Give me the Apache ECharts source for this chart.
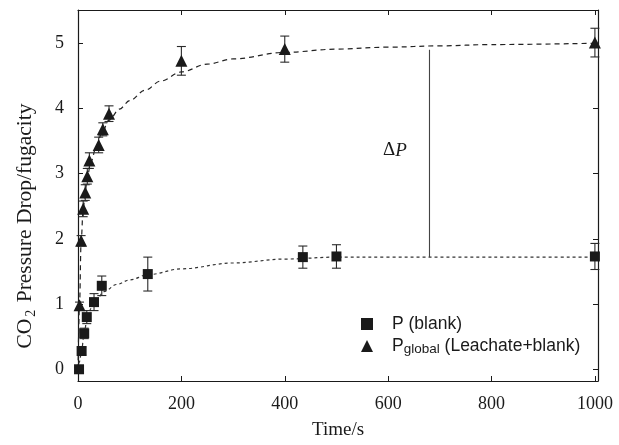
<!DOCTYPE html>
<html>
<head>
<meta charset="utf-8">
<script src="https://cdn.jsdelivr.net/npm/echarts@6/dist/echarts.min.js"></script>
<style>html,body{margin:0;padding:0;background:#fff;}#c{width:619px;height:445px;}</style>
</head>
<body>
<div id="c"></div>
<script>
// ---- data ----
const blankTime = [2, 7, 12, 17, 31, 46, 135, 435, 500, 1000];
const blankVal  = [0.00, 0.28, 0.55, 0.80, 1.03, 1.28, 1.46, 1.72, 1.73, 1.73];
const blankErr  = [0.03, 0.06, 0.08, 0.10, 0.13, 0.15, 0.26, 0.17, 0.18, 0.20];

const globalTime = [3, 6, 10, 14, 18, 22, 40, 48, 60, 200, 400, 1000];
const globalVal  = [0.98, 1.97, 2.46, 2.71, 2.96, 3.20, 3.44, 3.68, 3.92, 4.73, 4.91, 5.01];
const globalErr  = [0.05, 0.08, 0.12, 0.12, 0.12, 0.12, 0.12, 0.10, 0.12, 0.22, 0.20, 0.22];

// dashed fit curves
const globalFitT = [0, 3, 6, 10, 14, 18, 25, 35, 45, 60, 80, 100, 130, 160, 200, 250, 300, 400, 500, 600, 700, 800, 1000];
const globalFitV = [0.0, 1.0, 1.95, 2.45, 2.72, 2.95, 3.18, 3.40, 3.60, 3.82, 3.99, 4.12, 4.28, 4.42, 4.56, 4.68, 4.76, 4.86, 4.91, 4.94, 4.96, 4.98, 5.00];
const blankFitT  = [0, 3, 7, 12, 17, 25, 35, 50, 75, 100, 135, 200, 300, 400, 500, 600, 800, 1000];
const blankFitV  = [0.0, 0.12, 0.30, 0.55, 0.75, 0.93, 1.06, 1.19, 1.30, 1.37, 1.45, 1.54, 1.63, 1.69, 1.72, 1.72, 1.72, 1.72];

// delta P marker
const deltaT = [680, 680];
const deltaV = [1.72, 4.90];

const xTicks = [0, 200, 400, 600, 800, 1000];
const yTicks = [0, 1, 2, 3, 4, 5];

// ---- build ----
const zip = (a, b) => a.map((v, i) => [v, b[i]]);
const errData = (t, v, e) => t.map((x, i) => [x, v[i] - e[i], v[i] + e[i]]);

const serif = '"Liberation Serif", "DejaVu Serif", serif';
const sans = '"Liberation Sans", Arial, sans-serif';
const ink = '#1a1a1a';

function errRender(params, api) {
  const x = api.value(0), lo = api.value(1), hi = api.value(2);
  const a = api.coord([x, hi]), b = api.coord([x, lo]);
  const w = 4.5;
  const st = { stroke: '#2a2a2a', lineWidth: 1.1 };
  return { type: 'group', children: [
    { type: 'line', shape: { x1: a[0], y1: a[1], x2: b[0], y2: b[1] }, style: st },
    { type: 'line', shape: { x1: a[0] - w, y1: a[1], x2: a[0] + w, y2: a[1] }, style: st },
    { type: 'line', shape: { x1: b[0] - w, y1: b[1], x2: b[0] + w, y2: b[1] }, style: st }
  ]};
}

const axisLine = { show: true, onZero: false, lineStyle: { color: ink, width: 1.2 } };
const tick = (vals) => ({ inside: true, length: 5, lineStyle: { color: ink }, customValues: vals });

const chart = echarts.init(document.getElementById('c'), null, { renderer: 'canvas' });
chart.setOption({
  animation: false,
  backgroundColor: '#fff',
  grid: { left: 78, right: 21, top: 10, bottom: 56 },
  legend: {
    orient: 'vertical', left: 356, top: 310, itemGap: 2,
    itemWidth: 12, itemHeight: 12,
    data: ['blank', 'global'],
    formatter: function (n) {
      return n === 'blank' ? '{a|P (blank)}' : '{a|P}{s|global}{b| (Leachate+blank)}';
    },
    textStyle: {
      rich: {
        a: { fontFamily: sans, fontSize: 17.5, color: ink, lineHeight: 20, verticalAlign: 'middle', padding: [0, 0, 0, 14] },
        b: { fontFamily: sans, fontSize: 17.5, color: ink, lineHeight: 20, verticalAlign: 'middle' },
        s: { fontFamily: sans, fontSize: 13.5, color: ink, lineHeight: 20, verticalAlign: 'bottom', padding: [7, 0, 0, 0] }
      }
    }
  },
  xAxis: [{
    type: 'value', min: 0, max: 1006, position: 'bottom',
    name: 'Time/s', nameLocation: 'middle', nameGap: 40,
    nameTextStyle: { fontFamily: serif, fontSize: 19, color: ink },
    axisLine: axisLine, splitLine: { show: false },
    axisTick: tick(xTicks),
    axisLabel: { fontFamily: serif, fontSize: 18, color: ink, margin: 14, customValues: xTicks,
      formatter: v => String(v) }
  }, {
    type: 'value', min: 0, max: 1006, position: 'top',
    axisLine: axisLine, splitLine: { show: false },
    axisTick: tick(xTicks),
    axisLabel: { show: false }
  }],
  yAxis: [{
    type: 'value', min: -0.18, max: 5.51, position: 'left',
    axisLine: axisLine, splitLine: { show: false },
    axisTick: tick(yTicks),
    axisLabel: { fontFamily: serif, fontSize: 18, color: ink, margin: 14, customValues: yTicks }
  }, {
    type: 'value', min: -0.18, max: 5.51, position: 'right',
    axisLine: axisLine, splitLine: { show: false },
    axisTick: tick(yTicks),
    axisLabel: { show: false }
  }],
  graphic: [{
    type: 'text', x: 383, y: 141,
    style: { text: '{d|Δ}{p|P}', rich: {
      d: { fontFamily: serif, fontSize: 19, fill: ink },
      p: { fontFamily: serif, fontSize: 19, fontStyle: 'italic', fill: ink }
    } }
  }, {
    type: 'text', x: 25, y: 226, rotation: Math.PI / 2,
    style: { text: '{a|CO}{s|2}{a| Pressure Drop/fugacity}', align: 'center', verticalAlign: 'middle',
      rich: {
        a: { fontFamily: serif, fontSize: 21.5, fill: ink, lineHeight: 26, verticalAlign: 'middle' },
        s: { fontFamily: serif, fontSize: 14, fill: ink, lineHeight: 26, verticalAlign: 'bottom', padding: [11, 2, 0, 2] }
      } }
  }],
  series: [
    { name: 'globalFit', type: 'line', data: zip(globalFitT, globalFitV), smooth: 0.35, smoothMonotone: 'x',
      showSymbol: false, silent: true, lineStyle: { color: '#222', width: 1.2, type: [5, 4] } },
    { name: 'blankFit', type: 'line', data: zip(blankFitT, blankFitV), smooth: 0.35, smoothMonotone: 'x',
      showSymbol: false, silent: true, lineStyle: { color: '#333', width: 1.2, type: [3, 3] } },
    { name: 'delta', type: 'line', data: zip(deltaT, deltaV), showSymbol: false, silent: true,
      lineStyle: { color: '#444', width: 1.1 } },
    { name: 'blankErr', type: 'custom', renderItem: errRender, data: errData(blankTime, blankVal, blankErr),
      encode: { x: 0, y: [1, 2] }, z: 3 },
    { name: 'globalErr', type: 'custom', renderItem: errRender, data: errData(globalTime, globalVal, globalErr),
      encode: { x: 0, y: [1, 2] }, z: 3 },
    { name: 'blank', type: 'scatter', data: zip(blankTime, blankVal), symbol: 'rect', symbolSize: 10,
      itemStyle: { color: ink, opacity: 1 }, z: 5, clip: false },
    { name: 'global', type: 'scatter', data: zip(globalTime, globalVal), symbol: 'triangle', symbolSize: 12,
      itemStyle: { color: ink, opacity: 1 }, z: 5, clip: false }
  ]
});
</script>
</body>
</html>
